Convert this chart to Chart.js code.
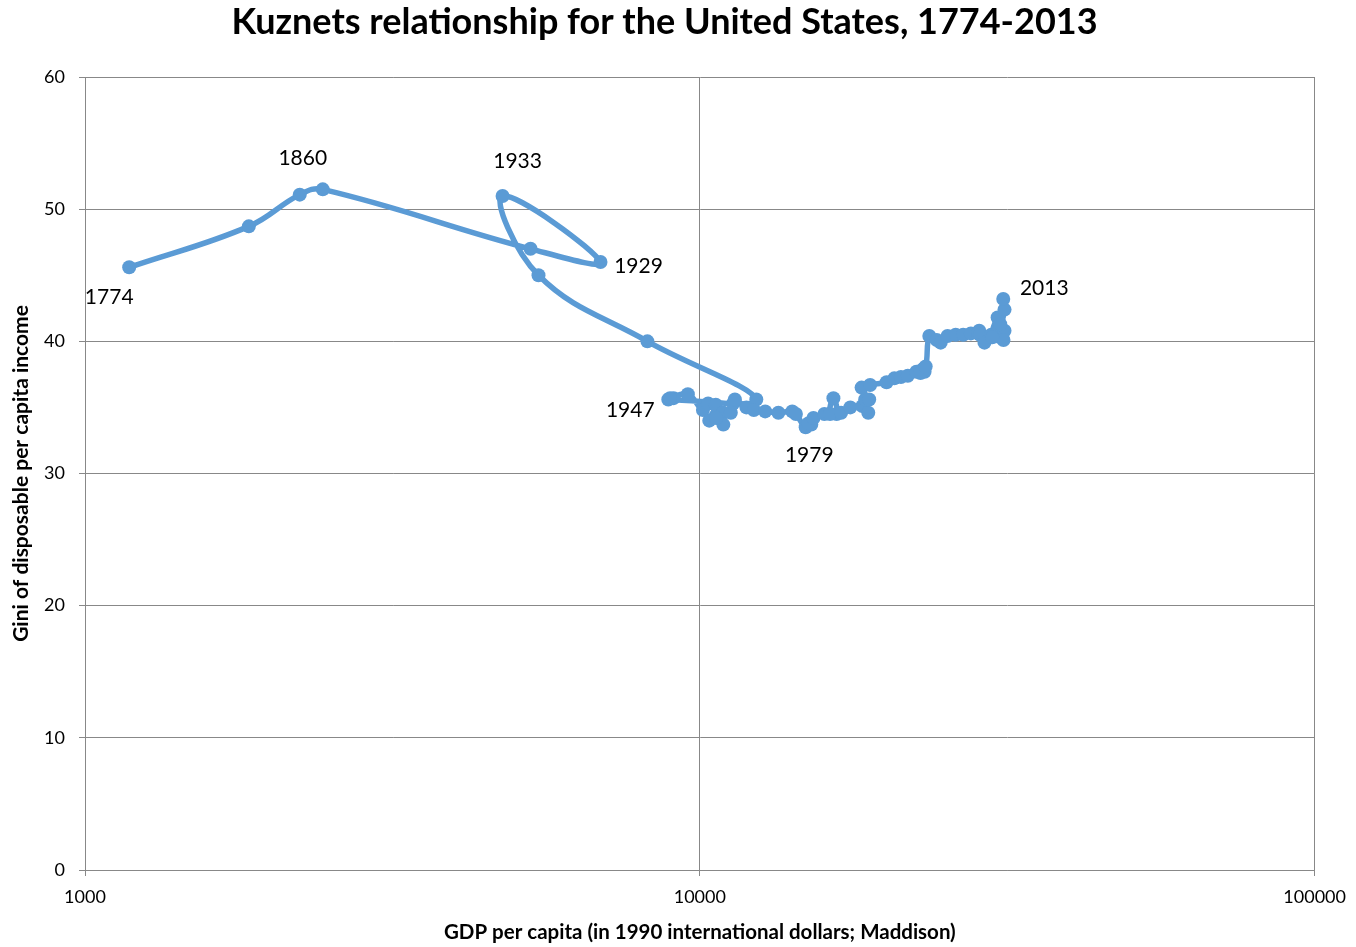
<!DOCTYPE html>
<html>
<head>
<meta charset="utf-8">
<script src="https://cdn.jsdelivr.net/npm/chart.js@4.4.1/dist/chart.umd.min.js"></script>
<style>
  html, body { margin: 0; padding: 0; background: #ffffff; }
  #wrap { width: 1356px; height: 947px; }
</style>
</head>
<body>
<div id="wrap"><canvas id="c" width="1356" height="947"></canvas></div>
<script>
// ---- Data ----
const years = [
  1774, 1850, 1860, 1870, 1913, 1929, 1933, 1935, 1941, 1944,
  1947, 1948, 1949, 1950, 1951, 1952, 1953, 1954, 1955, 1956,
  1957, 1958, 1959, 1960, 1961, 1962, 1963, 1964, 1965, 1966,
  1967, 1968, 1969, 1970, 1971, 1972, 1973, 1974, 1975, 1976,
  1977, 1978, 1979, 1980, 1981, 1982, 1983, 1984, 1985, 1986,
  1987, 1988, 1989, 1990, 1991, 1992, 1993, 1994, 1995, 1996,
  1997, 1998, 1999, 2000, 2001, 2002, 2003, 2004, 2005, 2006,
  2007, 2008, 2009, 2010, 2011, 2012, 2013
];
const gdpPerCapita = [
  1180, 1847, 2235, 2436, 5304, 6893, 4777, 5465, 8217, 12355,
  8886, 9065, 8944, 9561, 10116, 10316, 10613, 10359, 10897, 10914,
  10920, 10631, 11230, 11328, 11402, 11905, 12242, 12773, 13419, 14134,
  14330, 14863, 15179, 15030, 15304, 15944, 16689, 16491, 16284, 16975,
  17567, 18373, 18789, 18577, 18856, 18325, 18920, 20123, 20717, 21236,
  21788, 22499, 23059, 23201, 22849, 23298, 23616, 24284, 24643, 25287,
  26066, 26811, 27593, 28467, 28347, 28541, 29037, 29786, 30434, 31012,
  31298, 31178, 29900, 30500, 30800, 31300, 31150
];
const giniDisposable = [
  45.6, 48.7, 51.1, 51.5, 47.0, 46.0, 51.0, 45.0, 40.0, 35.6,
  35.6, 35.7, 35.7, 36.0, 34.8, 35.3, 35.2, 34.0, 34.6, 34.6,
  33.7, 34.2, 34.6, 35.3, 35.6, 35.0, 34.8, 34.7, 34.6, 34.7,
  34.5, 33.5, 33.7, 33.8, 34.2, 34.5, 34.5, 35.7, 34.5, 34.6,
  35.0, 35.1, 34.6, 35.6, 35.6, 36.5, 36.7, 36.9, 37.2, 37.3,
  37.4, 37.7, 37.9, 37.7, 37.6, 38.1, 40.4, 40.1, 39.9, 40.4,
  40.5, 40.5, 40.6, 40.8, 40.6, 40.5, 39.9, 40.5, 40.7, 40.5,
  40.8, 40.1, 40.3, 41.8, 41.3, 42.4, 43.2
];
const labelledYears = [1774, 1860, 1933, 1929, 1947, 1979, 2013];
const xTickValues = [1000, 10000, 100000];
const yTickStep = 10;

// ---- Styling ----
const BLUE = '#5B9BD5';
const GRID = '#888888';
const FONT = 'Lato, "Open Sans", "DejaVu Sans", sans-serif';

// text offsets (pixels) of the year labels relative to their points
const labelOffsets = {
  1774: [-20, 30], 1860: [3, -36], 1933: [15, -35], 1929: [38, 4],
  1947: [-38, 11], 1979: [-59, 43], 2013: [41, -11]
};

const points = gdpPerCapita.map((x, i) => ({ x: x, y: giniDisposable[i] }));

const yearLabelPlugin = {
  id: 'yearLabels',
  afterDatasetsDraw(chart) {
    const ctx = chart.ctx;
    const xs = chart.scales.x, ys = chart.scales.y;
    ctx.save();
    ctx.font = '21px ' + FONT;
    ctx.fillStyle = '#000000';
    ctx.textAlign = 'center';
    ctx.textBaseline = 'middle';
    labelledYears.forEach(yr => {
      const i = years.indexOf(yr);
      if (i < 0) return;
      const px = xs.getPixelForValue(gdpPerCapita[i]);
      const py = ys.getPixelForValue(giniDisposable[i]);
      const off = labelOffsets[yr] || [0, 0];
      ctx.fillText(String(yr), px + off[0], py + off[1]);
    });
    ctx.restore();
  }
};

new Chart(document.getElementById('c'), {
  type: 'scatter',
  data: {
    datasets: [{
      label: 'Gini',
      data: points,
      showLine: true,
      borderColor: BLUE,
      backgroundColor: BLUE,
      borderWidth: 5.5,
      tension: 0.4,
      pointRadius: 7,
      pointHoverRadius: 7,
      pointBorderWidth: 0,
      pointBackgroundColor: BLUE
    }]
  },
  options: {
    responsive: false,
    animation: false,
    devicePixelRatio: 1,
    layout: { padding: { left: 9, right: 36, top: 0, bottom: 0 } },
    plugins: {
      legend: { display: false },
      tooltip: { enabled: false },
      title: {
        display: true,
        text: 'Kuznets relationship for the United States, 1774-2013',
        color: '#000000',
        font: { family: FONT, size: 36, weight: 'bold', lineHeight: 1.2 },
        padding: { top: 1, bottom: 32.8 }
      }
    },
    scales: {
      x: {
        type: 'logarithmic',
        min: 1000,
        max: 100000,
        afterBuildTicks(scale) { scale.ticks = xTickValues.map(v => ({ value: v })); },
        afterFit(scale) { scale.height = 77; },
        ticks: {
          color: '#000000',
          font: { family: FONT, size: 18 },
          padding: 10,
          maxRotation: 0,
          autoSkip: false,
          callback: (v) => String(v)
        },
        grid: { color: GRID, lineWidth: 1, tickLength: 6, drawTicks: true },
        border: { color: GRID, width: 1 },
        title: {
          display: true,
          text: 'GDP per capita (in 1990 international dollars; Maddison)',
          color: '#000000',
          font: { family: FONT, size: 20.5, weight: 'bold' },
          padding: { top: 0, bottom: 2 }
        }
      },
      y: {
        min: 0,
        max: 60,
        afterFit(scale) { scale.width = 76; },
        ticks: {
          stepSize: yTickStep,
          color: '#000000',
          font: { family: FONT, size: 18 },
          padding: 14
        },
        grid: { color: GRID, lineWidth: 1, tickLength: 6, drawTicks: true },
        border: { color: GRID, width: 1 },
        title: {
          display: true,
          text: 'Gini of disposable per capita income',
          color: '#000000',
          font: { family: FONT, size: 21, weight: 'bold' },
          padding: { top: 0, bottom: 0 }
        }
      }
    }
  },
  plugins: [yearLabelPlugin]
});
</script>
</body>
</html>
